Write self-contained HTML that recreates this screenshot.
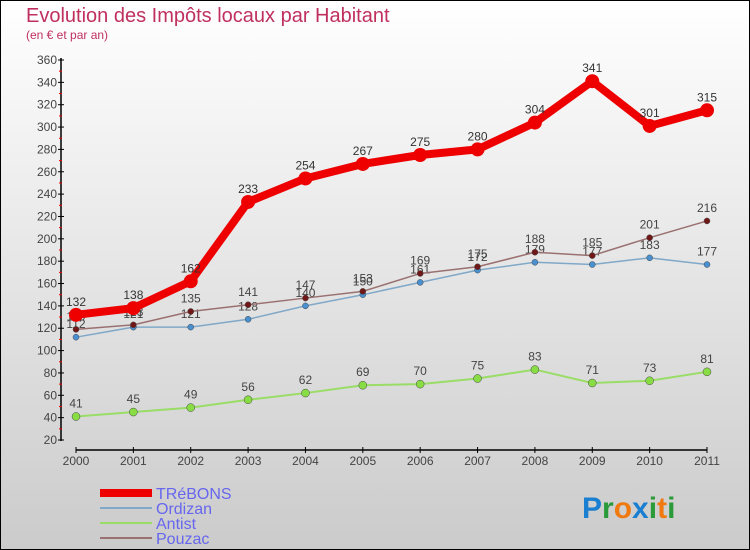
<!DOCTYPE html>
<html><head><meta charset="utf-8"><style>
body{margin:0}
#c{width:748px;height:548px;border:1px solid #000;background:linear-gradient(#fff,#cbcbcb);position:relative;font-family:"Liberation Sans",sans-serif;overflow:hidden}
svg{position:absolute;left:-1px;top:-1px}
</style></head><body>
<div id="c">
<svg id="s" width="750" height="550">
<text x="26" y="22" font-size="20" fill="#c0305f">Evolution des Impôts locaux par Habitant</text>
<text x="26" y="39" font-size="12" fill="#c0305f">(en € et par an)</text>
<g id="axes"></g><g id="series"></g>
<g>
<rect x="100" y="489" width="52" height="8" fill="#e00"/>
<text x="156" y="499" font-size="16" fill="#6666ee">TRéBONS</text>
<rect x="100" y="507" width="52" height="2" fill="#80a8c8"/>
<text x="156" y="514" font-size="16" fill="#6666ee">Ordizan</text>
<rect x="100" y="522" width="52" height="2" fill="#99dd66"/>
<text x="156" y="529" font-size="16" fill="#6666ee">Antist</text>
<rect x="100" y="537" width="52" height="2" fill="#9a7070"/>
<text x="156" y="544" font-size="16" fill="#6666ee">Pouzac</text>
</g>
<text x="582" y="518" font-size="30" font-weight="bold"><tspan fill="#1a7fd0">P</tspan><tspan fill="#2a9a3a">r</tspan><tspan fill="#f07a10">o</tspan><tspan fill="#1a7fd0">x</tspan><tspan fill="#2a9a3a">i</tspan><tspan fill="#f07a10">t</tspan><tspan fill="#2a9a3a">i</tspan></text>
</svg></div>
<script>
const years=[2000,2001,2002,2003,2004,2005,2006,2007,2008,2009,2010,2011];
const trebons=[132,138,162,233,254,267,275,280,304,341,301,315];
const ordizan=[112,121,121,128,140,150,161,172,179,177,183,177];
const antist=[41,45,49,56,62,69,70,75,83,71,73,81];
const pouzac=[119,123,135,141,147,153,169,175,188,185,201,216];
const yTicks=[20,40,60,80,100,120,140,160,180,200,220,240,260,280,300,320,340,360];
const NS="http://www.w3.org/2000/svg";
const X=i=>76+i*(707-76)/11;
const Y=v=>440-(v-20)*(380/340);
function mk(t,a,p){const e=document.createElementNS(NS,t);for(const k in a)e.setAttribute(k,a[k]);p.appendChild(e);return e;}
const ax=document.getElementById('axes'),sg=document.getElementById('series');
let l=mk('line',{x1:61,y1:58,x2:61,y2:441,stroke:'#000','stroke-width':1.5},ax);


l=mk('line',{x1:76,y1:450,x2:707,y2:450,stroke:'#000','stroke-width':1.5},ax);


yTicks.forEach(v=>{
 mk('line',{x1:58,x2:64,y1:Y(v),y2:Y(v),stroke:'#000'},ax);
 if(v<360)mk('line',{x1:59,x2:62,y1:Y(v+10),y2:Y(v+10),stroke:'#e00'},ax);
 const t=mk('text',{x:57,y:Y(v)+4,'font-size':12,fill:'#444','text-anchor':'end'},ax);t.textContent=v;
 
 
});
years.forEach((y,i)=>{
 mk('line',{x1:X(i),x2:X(i),y1:447,y2:453,stroke:'#000'},ax);
 const t=mk('text',{x:X(i),y:465,'font-size':12,fill:'#444','text-anchor':'middle'},ax);t.textContent=y;
 
 
});
function series(name,data,color,w,r,fill,lc){
 const g=mk('g',{},sg);
 
 
 mk('polyline',{points:data.map((v,i)=>X(i)+','+Y(v)).join(' '),fill:'none',stroke:color,'stroke-width':w,'stroke-linejoin':'round'},g);
 data.forEach((v,i)=>{
  const c=mk('circle',{cx:X(i),cy:Y(v),r:r,fill:fill,stroke:w>3?'none':'#444','stroke-width':0.5},g);
  
  
  const t=mk('text',{x:X(i),y:Y(v)-9,'font-size':12,fill:lc,'text-anchor':'middle'},g);t.textContent=v;
  
  
 });
}
series('antist',antist,'#99dd66',2,4,'#88dd44','#444');
series('ordizan',ordizan,'#80a8c8',1.5,3,'#4a90d0','#444');
series('pouzac',pouzac,'#9a7070',1.5,3,'#701818','#444');
series('trebons',trebons,'#ee0000',8,7,'#ee0000','#333');
</script>
</body></html>
